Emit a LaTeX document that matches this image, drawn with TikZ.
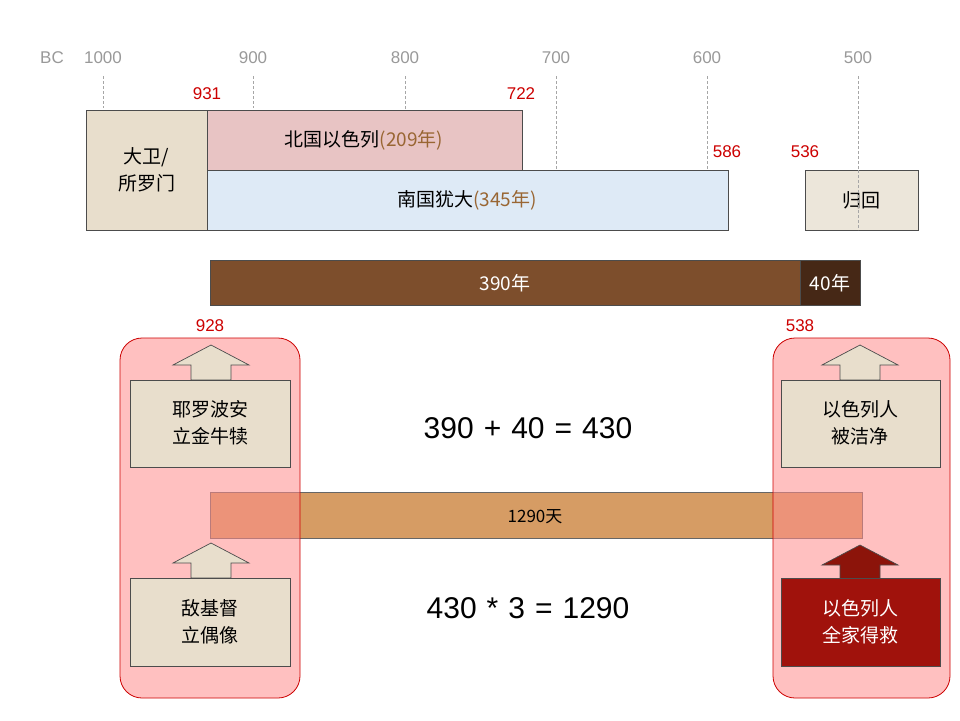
\documentclass[tikz,border=0pt]{standalone}
\usepackage{fontspec}
\setmainfont{Liberation Sans}
\newfontfamily\cjk{Noto Sans CJK SC}
\begin{document}
\begin{tikzpicture}[x=1pt,y=-1pt,
  yr/.style={font=\fontsize{17}{17}\selectfont, text=gray!80},
  rd/.style={font=\fontsize{17}{17}\selectfont, text=red!80!black},
  dl/.style={gray!70, densely dashed, line width=0.7pt},
  bx/.style={draw=black!70, line width=0.7pt},
  tx/.style={font=\cjk\fontsize{19}{27}\selectfont, align=center},
  eq/.style={font=\fontsize{30}{30}\selectfont},
  pinkbox/.style={draw=red!80!black, line width=0.8pt, fill=red!45, fill opacity=0.55, rounded corners=22pt},
  tan/.style={bx, fill={rgb,255:red,232;green,222;blue,204}}
]
\useasboundingbox (0,0) rectangle (960,720);
% axis
\node[yr] (bc) at (52,58) {BC};
\foreach \x/\y in {103/1000,253/900,405/800,556/700,707/600,858/500}{\node[yr] at (\x,58) {\y};}
\draw[dl] (103,76) -- (103,108);
\draw[dl] (253,76) -- (253,108);
\draw[dl] (405,76) -- (405,170);
\draw[dl] (556,76) -- (556,170);
\draw[dl] (707,76) -- (707,170);
\draw[dl] (858,76) -- (858,170);
\node[rd] at (207,94) {931};
\node[rd] at (521,94) {722};
\node[rd] at (727,152) {586};
\node[rd] at (805,152) {536};
% kingdom boxes
\draw[tan] (86,110) rectangle (207,230);
\node[tx] (dw) at (146.5,170) {大卫/\\所罗门};
\draw[bx, fill={rgb,255:red,232;green,196;blue,196}] (207,110) rectangle (522,170);
\node[tx] (bg) at (364,140) {北国以色列{\color{brown!80!black}(209年)}};
\draw[bx, fill={rgb,255:red,222;green,234;blue,246}] (207,170) rectangle (728,230);
\node[tx] (ng) at (467,200) {南国犹大{\color{brown!80!black}(345年)}};
\draw[bx, fill={rgb,255:red,236;green,230;blue,218}] (805,170) rectangle (918,230);
\node[tx] (gh) at (861,200) {归回};
\draw[dl] (858,170) -- (858,230);
% wood bar
\draw[bx, fill={rgb,255:red,125;green,78;blue,44}] (210,260) rectangle (800,305);
\draw[bx, fill={rgb,255:red,70;green,40;blue,22}] (800,260) rectangle (860,305);
\node[tx, text=white] (y390) at (505,283) {390年};
\node[tx, text=white] (y40) at (830,283) {40年};
\node[rd] at (210,326) {928};
\node[rd] at (800,326) {538};
% 1290 bar
\draw[draw=black!60, fill={rgb,255:red,214;green,156;blue,100}] (210,492) rectangle (862,538);
\node[font=\cjk\fontsize{17}{17}\selectfont] (d1290) at (535,517) {1290天};
% pink regions
\draw[pinkbox] (120,338) rectangle (300,698);
\draw[pinkbox] (773,338) rectangle (950,698);
% arrows
\foreach \cx/\ty/\col in {211/345/{rgb,255:red,232;green,222;blue,204}, 211/543/{rgb,255:red,232;green,222;blue,204}, 860/345/{rgb,255:red,232;green,222;blue,204}, 860/545/{rgb,255:red,140;green,20;blue,10}}{
  \draw[draw=black!70, line width=0.7pt, fill=\col] (\cx,\ty) -- (\cx+38,\ty+20) -- (\cx+20,\ty+20) -- (\cx+20,\ty+35) -- (\cx-20,\ty+35) -- (\cx-20,\ty+20) -- (\cx-38,\ty+20) -- cycle;
}
\draw[tan] (130,380) rectangle (290,467);
\node[tx] (jr) at (210,423) {耶罗波安\\立金牛犊};
\draw[tan] (130,578) rectangle (290,666);
\node[tx] (dj) at (210,622) {敌基督\\立偶像};
\draw[tan] (781,380) rectangle (940,467);
\node[tx] (jj) at (860,423) {以色列人\\被洁净};
\draw[bx, fill={rgb,255:red,160;green,18;blue,12}] (781,578) rectangle (940,666);
\node[tx, text=white] (jd) at (860,622) {以色列人\\全家得救};
% equations
\node[eq] (e1) at (528,428) {390\,\,+\,\,40\,\,=\,\,430};
\node[eq] (e2) at (528,608) {430\,\,*\,\,3\,\,=\,\,1290};
\end{tikzpicture}
\end{document}
